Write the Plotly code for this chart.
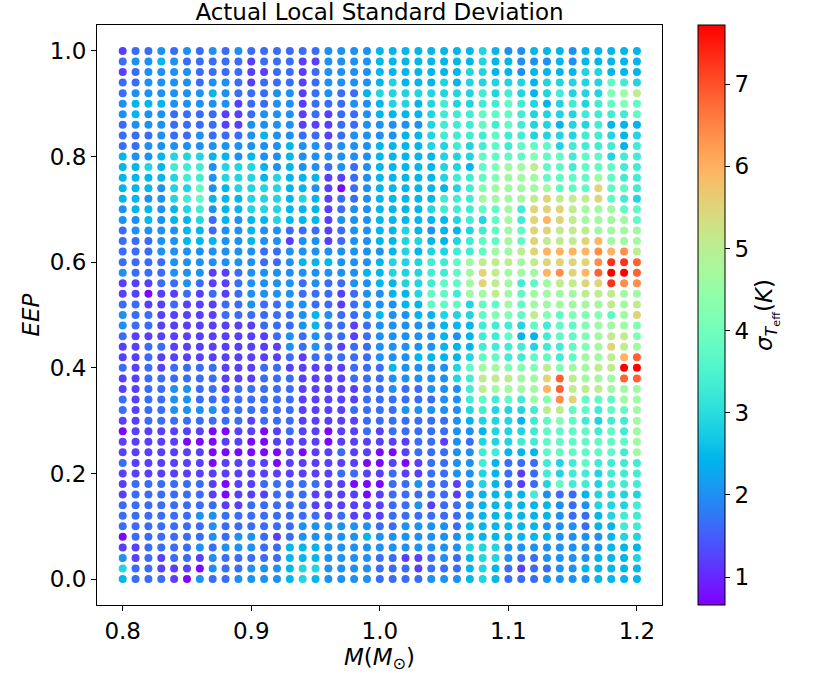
import math

import plotly.graph_objects as go

# grid of the scatter: stellar mass (columns) and EEP (rows, top to bottom)
mass = [0.80, 0.81, 0.82, 0.83, 0.84, 0.85, 0.86, 0.87, 0.88, 0.89,
        0.90, 0.91, 0.92, 0.93, 0.94, 0.95, 0.96, 0.97, 0.98, 0.99,
        1.00, 1.01, 1.02, 1.03, 1.04, 1.05, 1.06, 1.07, 1.08, 1.09,
        1.10, 1.11, 1.12, 1.13, 1.14, 1.15, 1.16, 1.17, 1.18, 1.19, 1.20]
eep = [1.00, 0.98, 0.96, 0.94, 0.92, 0.90, 0.88, 0.86, 0.84, 0.82,
       0.80, 0.78, 0.76, 0.74, 0.72, 0.70, 0.68, 0.66, 0.64, 0.62,
       0.60, 0.58, 0.56, 0.54, 0.52, 0.50, 0.48, 0.46, 0.44, 0.42,
       0.40, 0.38, 0.36, 0.34, 0.32, 0.30, 0.28, 0.26, 0.24, 0.22,
       0.20, 0.18, 0.16, 0.14, 0.12, 0.10, 0.08, 0.06, 0.04, 0.02, 0.00]

# sigma_Teff (K), one code per dot
level_codes = "0123456789ABCDEFG"
sigma_levels = [0.72, 1.22, 1.64, 2.02, 2.45, 2.87, 3.31, 3.75, 4.19,
                4.63, 5.07, 5.51, 5.96, 6.40, 6.84, 7.28, 7.72]
sigma_rows = [
    "12232323232222" "2233334444444" "45433444344444",
    "23343222221222" "1133334444444" "45443334344444",
    "12333322221122" "1233334444444" "55443444455444",
    "22333323321222" "1233334544454" "55555455555765",
    "23333334322233" "1232245555555" "5656545655589A",
    "34443333312233" "1222334554565" "56676545656787",
    "34332222112333" "1212234444566" "67776555566667",
    "23332222113333" "1112233333566" "67676554556444",
    "22232232223433" "2212333344566" "66766555566545",
    "22333333333334" "3323334444556" "56767775666646",
    "43345554434334" "3333334444455" "57777877677566",
    "44546663555434" "3323234444455" "47899A77677766",
    "44445663555454" "4411234444456" "67899977779766",
    "44435573455554" "4310234444445" "6899999777B776",
    "44335674445554" "5412234444466" "69999ABAAAB765",
    "34434563445554" "4412334444566" "67796BBBA99977",
    "33434452434454" "4413334444445" "65796BCBA99997",
    "23333442334332" "2212334454344" "56797BBAAA9999",
    "22233444334331" "3312334455445" "67797BAAABC999",
    "22233333333223" "3333333454556" "6799ABCCCCDCDA",
    "22223333333223" "4443334555667" "9AAA9ABBBBDFFE",
    "32223331123333" "3333344555667" "9BA999CDBCEGGE",
    "11122321123333" "2322334455677" "9BA9679AABBFDD",
    "11011212123333" "2221233445776" "99A979999AAA99",
    "22112111223223" "3221233344777" "57797999999A9A",
    "32211111222222" "3432234334455" "57887A8788879B",
    "32211111111222" "3422123333344" "46665767789998",
    "21111111111123" "2322123333343" "46674467789AA8",
    "11221111111113" "2321223333344" "46666566789BA9",
    "11211111111112" "1222223334444" "57766776799ACE",
    "21212222111221" "1111222433335" "799888A899AAGG",
    "11222222111222" "1111222333335" "6AAA99BEA999EE",
    "11223322122222" "1111122322333" "6A9999CEAAA999",
    "21223322222222" "1111122222233" "6767698DB77799",
    "21223333222222" "1111222233333" "565556AA776779",
    "11222222221222" "1111122222223" "45554678765669",
    "01111110011012" "1101121222223" "34555677776769",
    "11111000110011" "1101111112213" "25556677777779",
    "11111110000001" "0112110012223" "36644477777769",
    "21111110111101" "1111100101223" "36422265676666",
    "11111111111111" "1112211211223" "35421265665666",
    "12222221011222" "2211000223221" "35421257665666",
    "12222221011122" "2111101222221" "34444632245555",
    "22222222112222" "2111111223122" "34444443235556",
    "22222233222222" "2212111222222" "34444443224566",
    "22222223222222" "3333332233332" "44444433324466",
    "02222223233212" "3333343333333" "44444443333455",
    "11222232333224" "4433333333333" "55533333333444",
    "31212213222224" "4433332211232" "45532233334445",
    "52211103223334" "5533332221222" "45421223344444",
    "42221032233334" "5433332222333" "45422233334444",
]


def rainbow(t):
    # matplotlib "rainbow" colormap
    r = min(1.0, abs(2 * t - 0.5))
    g = math.sin(math.pi * t)
    b = math.cos(math.pi * t / 2)
    return f"rgb({round(255 * r)},{round(255 * g)},{round(255 * b)})"


colorscale = [[i / 32, rainbow(i / 32)] for i in range(33)]

xs, ys, cs = [], [], []
for row_eep, row in zip(eep, sigma_rows):
    for m, code in zip(mass, row):
        xs.append(m)
        ys.append(row_eep)
        cs.append(sigma_levels[level_codes.index(code)])

FONT = "DejaVu Sans"
SIZE = 23

fig = go.Figure(
    go.Scatter(
        x=xs,
        y=ys,
        mode="markers",
        marker=dict(
            size=8,
            color=cs,
            colorscale=colorscale,
            cmin=0.66,
            cmax=7.72,
            line=dict(width=0),
            colorbar=dict(
                x=1.0637,
                xanchor="left",
                xpad=0,
                y=0.5,
                len=1.0,
                ypad=0,
                thickness=27,
                outlinewidth=1,
                outlinecolor="black",
                tickvals=[1, 2, 3, 4, 5, 6, 7],
                ticks="outside",
                ticklen=5,
                tickcolor="black",
                tickfont=dict(size=SIZE, family=FONT, color="black"),
                title=dict(
                    text="<i>σ</i><sub><i>T</i><sub>eff</sub></sub>(<i>K</i>)",
                    side="right",
                    font=dict(size=SIZE, family=FONT, color="black"),
                ),
            ),
        ),
        hoverinfo="skip",
    )
)

axis_common = dict(
    showgrid=False,
    zeroline=False,
    showline=True,
    mirror=True,
    linecolor="black",
    linewidth=1,
    ticks="outside",
    ticklen=5,
    tickcolor="black",
    tickfont=dict(size=SIZE, family=FONT, color="black"),
)

fig.update_layout(
    width=830,
    height=692,
    margin=dict(l=97, r=168, t=25, b=87),
    paper_bgcolor="white",
    plot_bgcolor="white",
    showlegend=False,
    title=dict(
        text="Actual Local Standard Deviation",
        x=0.5,
        xref="paper",
        xanchor="center",
        y=0.983,
        yanchor="middle",
        font=dict(size=SIZE, family=FONT, color="black"),
    ),
    xaxis=dict(
        range=[0.78, 1.2195],
        tickvals=[0.8, 0.9, 1.0, 1.1, 1.2],
        ticktext=["0.8", "0.9", "1.0", "1.1", "1.2"],
        title=dict(
            text="<i>M</i>(<i>M</i><sub>⊙</sub>)",
            font=dict(size=SIZE, family=FONT, color="black"),
            standoff=0,
        ),
        **axis_common,
    ),
    yaxis=dict(
        range=[-0.049, 1.049],
        tickvals=[0.0, 0.2, 0.4, 0.6, 0.8, 1.0],
        ticktext=["0.0", "0.2", "0.4", "0.6", "0.8", "1.0"],
        title=dict(
            text="<i>EEP</i>",
            font=dict(size=SIZE, family=FONT, color="black"),
            standoff=3,
        ),
        **axis_common,
    ),
)

# drop the page's default 8px body margin so the figure sits at the window corner
fig.write_html(
    "out.html",
    config={"displayModeBar": False},
    post_script="document.body.style.margin='0px';",
)
